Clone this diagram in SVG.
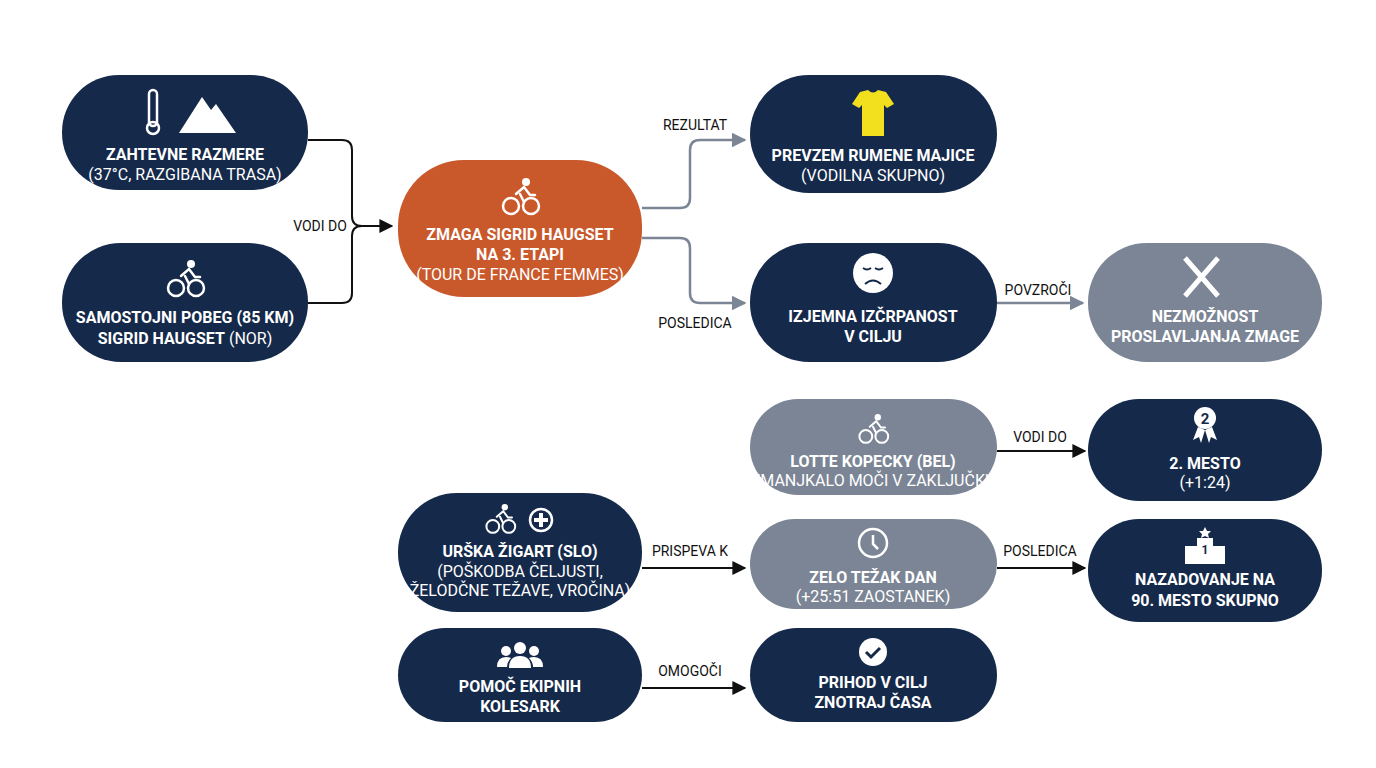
<svg xmlns="http://www.w3.org/2000/svg" width="1376" height="768" viewBox="0 0 1376 768">
<style>
.d{fill:#15294a}.o{fill:#c9582b}.g{fill:#7b8595}
text{font-family:Roboto,"Liberation Sans",sans-serif;fill:#fff;text-anchor:middle;font-size:16px}
.b{font-weight:bold}
.l{fill:#111;font-size:14px}
.c{fill:none;stroke:#111;stroke-width:2}
.cg{fill:none;stroke:#7b8595;stroke-width:2.5}
.ic{fill:#fff}.is{fill:none;stroke:#fff;stroke-width:2.5}
</style>
<defs>
<marker id="a" viewBox="0 0 10 10" refX="9" refY="5" markerWidth="7" markerHeight="7" orient="auto"><path d="M0 0L10 5L0 10z" fill="#111"/></marker>
<marker id="ag" viewBox="0 0 10 10" refX="9" refY="5" markerWidth="6" markerHeight="6" orient="auto"><path d="M0 0L10 5L0 10z" fill="#7b8595"/></marker>
<g id="bike"><circle cx="-9" cy="8" r="8" class="is"/><circle cx="11" cy="8" r="8" class="is"/><circle cx="6" cy="-16" r="4" class="ic"/><path d="M-4 -4L4 -11L10 -3L15 -3M0 -4L4 4" class="is" stroke-width="4" stroke-linecap="round"/></g>
</defs>
<g id="connectors">
<path class="c" d="M308 140H342Q352 140 352 150V216Q352 226 362 226H392" marker-end="url(#a)"/>
<path class="c" d="M308 303H342Q352 303 352 293V236Q352 226 362 226"/>
<text class="l" x="320" y="231">VODI DO</text>
<path class="cg" d="M642 208H680Q690 208 690 198V150Q690 140 700 140H745" marker-end="url(#ag)"/>
<text class="l" x="695" y="130">REZULTAT</text>
<path class="cg" d="M642 238H680Q690 238 690 248V293Q690 303 700 303H745" marker-end="url(#ag)"/>
<text class="l" x="695" y="328">POSLEDICA</text>
<path class="cg" d="M997 303H1083" marker-end="url(#ag)"/>
<text class="l" x="1038" y="295">POVZROČI</text>
<path class="c" d="M997 451H1085" marker-end="url(#a)"/>
<text class="l" x="1040" y="442">VODI DO</text>
<path class="c" d="M642 568H745" marker-end="url(#a)"/>
<text class="l" x="690" y="556">PRISPEVA K</text>
<path class="c" d="M997 568H1085" marker-end="url(#a)"/>
<text class="l" x="1040" y="556">POSLEDICA</text>
<path class="c" d="M642 688H745" marker-end="url(#a)"/>
<text class="l" x="690" y="676">OMOGOČI</text>
</g>
<g id="n1"><rect class="d" x="62" y="75" width="246" height="115" rx="57"/>
<rect x="149" y="90" width="8" height="36" rx="4" class="is" stroke-width="2"/><circle cx="153" cy="128" r="6" class="is" stroke-width="2"/>
<path d="M179 133L202 97L211 110L216 104L236 133z" class="ic"/>
<text class="b" x="185" y="160">ZAHTEVNE RAZMERE</text><text x="185" y="180">(37°C, RAZGIBANA TRASA)</text></g>
<g id="n2"><rect class="d" x="62" y="243" width="246" height="119" rx="59"/>
<use href="#bike" x="185" y="280"/>
<text class="b" x="185" y="323">SAMOSTOJNI POBEG (85 KM)</text><text x="185" y="344"><tspan class="b">SIGRID HAUGSET</tspan> (NOR)</text></g>
<g id="n3"><rect class="o" x="398" y="160" width="244" height="137" rx="66"/>
<use href="#bike" x="520" y="198"/>
<text class="b" x="520" y="240">ZMAGA SIGRID HAUGSET</text><text class="b" x="520" y="260">NA 3. ETAPI</text><text x="520" y="280">(TOUR DE FRANCE FEMMES)</text></g>
<g id="n4"><rect class="d" x="750" y="75" width="247" height="118" rx="59"/>
<path d="M860 92L868 90Q873 95 878 90L886 92L894 104L887 108L884 105V136H862V105L859 108L852 104z" fill="#f2df1e"/>
<text class="b" x="873" y="161">PREVZEM RUMENE MAJICE</text><text x="873" y="181">(VODILNA SKUPNO)</text></g>
<g id="n5"><rect class="d" x="750" y="243" width="247" height="119" rx="59"/>
<circle cx="873" cy="273" r="20" class="ic"/><path d="M863 268q4 3 8 0M875 268q4 3 8 0M865 284q8-7 16 0" fill="none" stroke="#15294a" stroke-width="2"/>
<text class="b" x="873" y="322">IZJEMNA IZČRPANOST</text><text class="b" x="873" y="342">V CILJU</text></g>
<g id="n6"><rect class="g" x="1088" y="243" width="234" height="119" rx="59"/>
<path d="M1185 258L1218 296M1218 258L1185 296" stroke="#fff" stroke-width="5"/>
<text class="b" x="1205" y="322">NEZMOŽNOST</text><text class="b" x="1205" y="342">PROSLAVLJANJA ZMAGE</text></g>
<g id="n7"><rect class="g" x="750" y="399" width="247" height="96" rx="48"/>
<use href="#bike" x="873" y="430" transform="translate(873 430) scale(0.8) translate(-873 -430)"/>
<text class="b" x="873" y="467">LOTTE KOPECKY (BEL)</text><text x="873" y="486">ZMANJKALO MOČI V ZAKLJUČKU</text></g>
<g id="n8"><rect class="d" x="1088" y="399" width="234" height="102" rx="51"/>
<circle cx="1205" cy="418" r="11" class="ic"/><path d="M1198 427L1193 440L1199 437L1201 443L1205 430M1212 427L1217 440L1211 437L1209 443L1205 430" class="ic"/>
<text x="1205" y="424" style="fill:#15294a;font-size:15px" class="b">2</text>
<text class="b" x="1205" y="469">2. MESTO</text><text x="1205" y="488">(+1:24)</text></g>
<g id="n9"><rect class="d" x="398" y="493" width="244" height="119" rx="59"/>
<use href="#bike" x="500" y="520" transform="translate(500 520) scale(0.8) translate(-500 -520)"/>
<circle cx="541" cy="520" r="11" class="is" stroke-width="2"/><path d="M541 513v14M534 520h14" stroke="#fff" stroke-width="4"/>
<text class="b" x="520" y="557">URŠKA ŽIGART (SLO)</text><text x="520" y="577">(POŠKODBA ČELJUSTI,</text><text x="520" y="596">ŽELODČNE TEŽAVE, VROČINA)</text></g>
<g id="n10"><rect class="g" x="750" y="519" width="247" height="90" rx="45"/>
<circle cx="873" cy="543" r="14" class="is"/><path d="M873 535v9l5 5" class="is" stroke-width="2"/>
<text class="b" x="873" y="583">ZELO TEŽAK DAN</text><text x="873" y="602">(+25:51 ZAOSTANEK)</text></g>
<g id="n11"><rect class="d" x="1088" y="519" width="234" height="103" rx="51"/>
<path d="M1185 564V546H1197V538H1213V546H1225V564z" class="ic"/><text x="1205" y="554" style="fill:#15294a;font-size:12px" class="b">1</text><path d="M1205 527l2 4 4 0-3 3 1 4-4-2-4 2 1-4-3-3 4 0z" class="ic"/>
<text class="b" x="1205" y="585">NAZADOVANJE NA</text><text class="b" x="1205" y="606">90. MESTO SKUPNO</text></g>
<g id="n12"><rect class="d" x="398" y="628" width="244" height="94" rx="47"/>
<circle cx="520" cy="648" r="6" class="ic"/><circle cx="506" cy="651" r="5" class="ic"/><circle cx="534" cy="651" r="5" class="ic"/>
<path d="M509 668q0-12 11-12q11 0 11 12zM497 667q0-10 9-10q3 0 5 1q-4 4-4 9zM543 667q0-10-9-10q-3 0-5 1q4 4 4 9z" class="ic"/>
<text class="b" x="520" y="692">POMOČ EKIPNIH</text><text class="b" x="520" y="712">KOLESARK</text></g>
<g id="n13"><rect class="d" x="750" y="628" width="247" height="94" rx="47"/>
<circle cx="873" cy="652" r="14" class="ic"/><path d="M866 652l5 5l9-9" fill="none" stroke="#15294a" stroke-width="3"/>
<text class="b" x="873" y="688">PRIHOD V CILJ</text><text class="b" x="873" y="708">ZNOTRAJ ČASA</text></g>
</svg>
